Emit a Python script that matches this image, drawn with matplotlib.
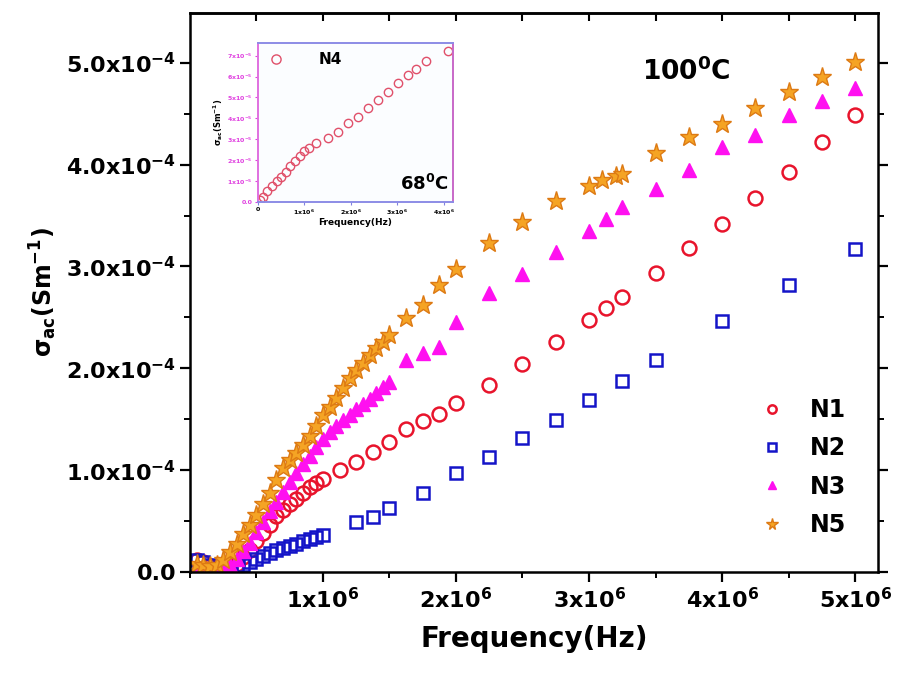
import numpy as np
import matplotlib
matplotlib.use('Agg')
import matplotlib.pyplot as plt
from matplotlib.ticker import MultipleLocator, FixedLocator, FuncFormatter

plt.rcParams['font.family'] = ['DejaVu Sans']
plt.rcParams['font.weight'] = 'bold'
plt.rcParams['mathtext.fontset'] = 'custom'
plt.rcParams['mathtext.rm'] = 'DejaVu Sans:bold'
plt.rcParams['mathtext.it'] = 'DejaVu Sans:bold'
plt.rcParams['mathtext.bf'] = 'DejaVu Sans:bold'
plt.rcParams['mathtext.default'] = 'rm'

# frequencies in MHz, conductivity in 1e-4 S/m
f_dense = [0.05, 0.10, 0.15, 0.20, 0.25, 0.30, 0.35, 0.40, 0.45, 0.50,
           0.55, 0.60, 0.65, 0.70, 0.75, 0.80, 0.85, 0.90, 0.95, 1.00]
f_mid = [1.05, 1.10, 1.15, 1.20, 1.25, 1.30, 1.35, 1.40, 1.45, 1.50]

f_n1 = f_dense + [1.125, 1.25, 1.375, 1.5, 1.625, 1.75, 1.875, 2.0, 2.25, 2.5, 2.75,
                  3.0, 3.125, 3.25, 3.5, 3.75, 4.0, 4.25, 4.5, 4.75, 5.0]
s_n1 = [0.12, 0.10, 0.06, 0.03, 0.02, 0.03, 0.08, 0.15, 0.22, 0.30,
        0.38, 0.46, 0.55, 0.61, 0.67, 0.72, 0.78, 0.83, 0.87, 0.91,
        1.00, 1.08, 1.18, 1.28, 1.40, 1.48, 1.55, 1.66, 1.84, 2.04, 2.26,
        2.47, 2.59, 2.70, 2.94, 3.18, 3.42, 3.67, 3.93, 4.22, 4.49]

f_n2 = f_dense + [1.25, 1.375, 1.5, 1.75, 2.0, 2.25, 2.5, 2.75, 3.0, 3.25, 3.5, 4.0, 4.5, 5.0]
s_n2 = [0.12, 0.10, 0.07, 0.04, 0.02, 0.01, 0.04, 0.07, 0.10, 0.13,
        0.16, 0.19, 0.22, 0.24, 0.26, 0.28, 0.30, 0.32, 0.34, 0.36,
        0.49, 0.54, 0.63, 0.78, 0.97, 1.13, 1.32, 1.49, 1.69, 1.88, 2.08, 2.46, 2.82, 3.17]

f_n3 = f_dense + f_mid + [1.625, 1.75, 1.875, 2.0, 2.25, 2.5, 2.75, 3.0, 3.125, 3.25,
                          3.5, 3.75, 4.0, 4.25, 4.5, 4.75, 5.0]
s_n3 = [0.05, 0.04, 0.03, 0.03, 0.04, 0.07, 0.13, 0.21, 0.29, 0.39,
        0.49, 0.60, 0.69, 0.79, 0.88, 0.97, 1.06, 1.14, 1.23, 1.31,
        1.37, 1.43, 1.49, 1.54, 1.60, 1.65, 1.70, 1.76, 1.82, 1.87,
        2.08, 2.15, 2.21, 2.45, 2.74, 2.93, 3.14, 3.35, 3.47, 3.58,
        3.76, 3.95, 4.17, 4.29, 4.49, 4.62, 4.75]

f_n5 = f_dense + f_mid + [1.625, 1.75, 1.875, 2.0, 2.25, 2.5, 2.75, 3.0, 3.1, 3.2, 3.25,
                          3.5, 3.75, 4.0, 4.25, 4.5, 4.75, 5.0]
s_n5 = [0.08, 0.07, 0.06, 0.07, 0.12, 0.20, 0.28, 0.37, 0.46, 0.56,
        0.67, 0.78, 0.90, 1.02, 1.10, 1.17, 1.25, 1.34, 1.43, 1.54,
        1.62, 1.71, 1.81, 1.90, 1.98, 2.05, 2.13, 2.20, 2.26, 2.33,
        2.49, 2.62, 2.82, 2.97, 3.23, 3.44, 3.64, 3.79, 3.85, 3.89, 3.91,
        4.11, 4.27, 4.40, 4.56, 4.71, 4.86, 5.01]

# inset: N4 at 68 C, conductivity in 1e-5 S/m
f_n4 = [0.05, 0.1, 0.2, 0.3, 0.4, 0.5, 0.6, 0.7, 0.8, 0.9, 1.0, 1.1, 1.25, 1.5, 1.72,
        1.93, 2.15, 2.37, 2.59, 2.8, 3.02, 3.24, 3.41, 3.63, 4.1]
s_n4 = [0.1, 0.25, 0.5, 0.75, 1.0, 1.2, 1.45, 1.7, 1.95, 2.2, 2.45, 2.6, 2.8, 3.05, 3.33,
        3.76, 4.05, 4.48, 4.86, 5.24, 5.67, 6.05, 6.38, 6.76, 7.2]

fig = plt.figure(figsize=(9.02, 6.73), dpi=100)
ax = fig.add_axes([0.2106, 0.150, 0.7624, 0.831])

ax.plot(np.array(f_n1)*1e6, np.array(s_n1)*1e-4, 'o', ms=10, mfc='none', mec='#E8142C', mew=1.8, label='N1')
ax.plot(np.array(f_n2)*1e6, np.array(s_n2)*1e-4, 's', ms=9, mfc='none', mec='#1414C8', mew=1.8, label='N2')
ax.plot(np.array(f_n3)*1e6, np.array(s_n3)*1e-4, '^', ms=10, color='#FF10F0', mec='#FF10F0', label='N3')
ax.plot(np.array(f_n5)*1e6, np.array(s_n5)*1e-4, '*', ms=14, color='#F5A424', mec='#DD7A14', mew=1.0, label='N5')

ax.set_xlim(0, 5.17e6)
ax.set_ylim(0, 5.49e-4)

ax.xaxis.set_major_locator(FixedLocator([1e6, 2e6, 3e6, 4e6, 5e6]))
ax.xaxis.set_minor_locator(MultipleLocator(0.5e6))
ax.yaxis.set_major_locator(MultipleLocator(1e-4))
ax.yaxis.set_minor_locator(MultipleLocator(0.5e-4))

def xfmt(v, pos):
    return '%dx10$^{6}$' % round(v/1e6)

def yfmt(v, pos):
    if abs(v) < 1e-9:
        return '0.0'
    return '%.1fx10$^{-4}$' % (v*1e4)

ax.xaxis.set_major_formatter(FuncFormatter(xfmt))
ax.yaxis.set_major_formatter(FuncFormatter(yfmt))
ax.tick_params(axis='both', which='major', labelsize=16, width=1.6, length=7, direction='out')
ax.tick_params(axis='x', which='major', pad=4)
ax.tick_params(axis='y', which='major', pad=3)
ax.tick_params(axis='both', which='minor', width=1.4, length=4, direction='out')
ax.tick_params(axis='y', which='both', right=True)
for sp in ax.spines.values():
    sp.set_linewidth(1.8)

top = ax.secondary_xaxis('top')
top.set_xticks([0.5e6*i for i in range(1, 11)])
top.tick_params(direction='in', length=6, width=1.5, labeltop=False)
top.spines['top'].set_linewidth(1.8)

ax.set_xlabel('Frequency(Hz)', fontsize=20, fontweight='bold', labelpad=9)
ax.set_ylabel(r'$\sigma_{ac}$(Sm$^{-1}$)', fontsize=17, fontweight='bold', labelpad=5)

ax.text(0.722, 0.895, '100$^{0}$C', transform=ax.transAxes, fontsize=19,
        fontweight='bold', ha='center', va='center')

leg = ax.legend(loc='lower right', bbox_to_anchor=(0.985, 0.025), frameon=False,
                fontsize=17, markerscale=0.6, handletextpad=1.0, labelspacing=0.6,
                handlelength=1.2)
for t in leg.get_texts():
    t.set_fontweight('bold')

# inset
axi = fig.add_axes([0.286, 0.700, 0.216, 0.236])
axi.set_facecolor('#FBFDFF')
axi.plot(np.array(f_n4)*1e6, np.array(s_n4)*1e-5, 'o', ms=6, mfc='none', mec='#E0506A', mew=1.0, label='N4')
axi.set_xlim(0, 4.2e6)
axi.set_ylim(0, 7.6e-5)
axi.xaxis.set_major_locator(FixedLocator([0, 1e6, 2e6, 3e6, 4e6]))
axi.yaxis.set_major_locator(FixedLocator([i*1e-5 for i in range(8)]))
axi.xaxis.set_major_formatter(FuncFormatter(lambda v, p: '0' if v == 0 else '%dx10$^{6}$' % round(v/1e6)))
axi.yaxis.set_major_formatter(FuncFormatter(lambda v, p: '0.0' if v == 0 else '%dx10$^{-5}$' % round(v/1e-5)))
axi.tick_params(axis='x', labelsize=4.5, length=2, width=0.8, pad=2, color='#8080E0')
axi.tick_params(axis='y', labelsize=4.5, length=2, width=0.8, pad=2, colors='#E040E0')
axi.spines['top'].set_color('#8C8CE6')
axi.spines['bottom'].set_color('#8C8CE6')
axi.spines['left'].set_color('#E070E0')
axi.spines['right'].set_color('#C868C8')
for sp in axi.spines.values():
    sp.set_linewidth(1.4)
axi.set_xlabel('Frequency(Hz)', fontsize=6.5, fontweight='bold', labelpad=1)
axi.set_ylabel(r'$\sigma_{ac}$(Sm$^{-1}$)', fontsize=6, fontweight='bold', labelpad=1)
axi.text(0.98, 0.11, '68$^{0}$C', transform=axi.transAxes, fontsize=13,
         fontweight='bold', ha='right', va='center')
li = axi.legend(loc='upper left', frameon=False, fontsize=11, markerscale=1.1,
                handletextpad=2.2, borderaxespad=0.2, handlelength=1.2)
for t in li.get_texts():
    t.set_fontweight('bold')

fig.savefig('out.png', dpi=100)
